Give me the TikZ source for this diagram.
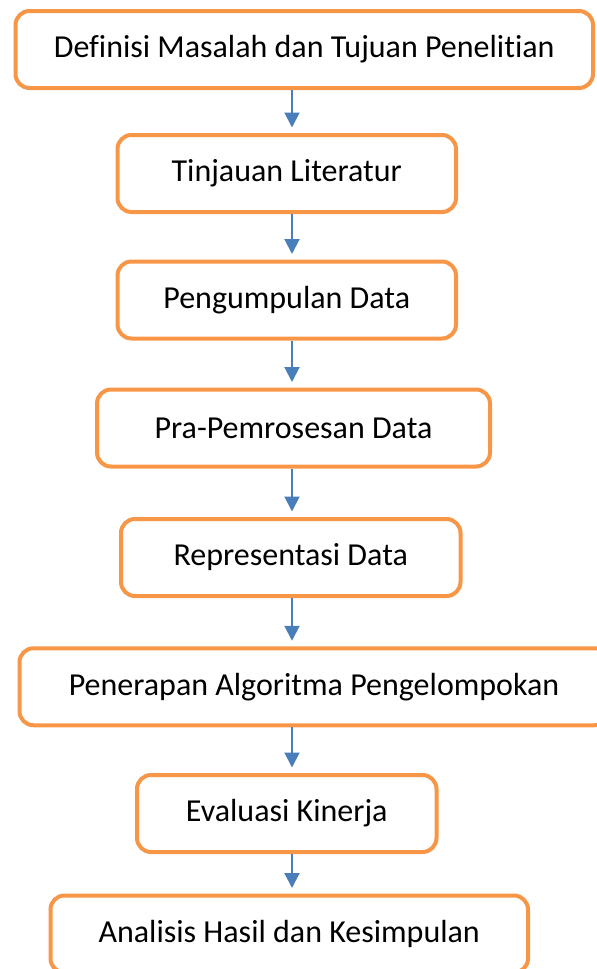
\documentclass[tikz,border=0pt]{standalone}
\usepackage{fontspec}
\setmainfont{Carlito}[Ligatures=NoCommon]
\usetikzlibrary{arrows.meta}
\definecolor{boxorange}{HTML}{F79646}
\definecolor{arrowblue}{HTML}{4A7EBB}
\tikzset{
  stepbox/.style={draw=boxorange, line width=2pt, rounded corners=7pt,
    minimum height=38.5pt, inner sep=0pt, font=\fontsize{16}{19}\selectfont},
  flow/.style={draw=arrowblue, line width=1pt,
    -{Triangle[width=7.5pt,length=7.5pt]}, shorten >=2.75pt}
}
\begin{document}
\begin{tikzpicture}[x=0.5pt,y=-0.5pt]
\useasboundingbox (0,0) rectangle (597,969);
\coordinate (spine) at (292,0);
\node[stepbox, minimum width=288.75pt] (masalah) at (304.25,49.5) {Definisi Masalah dan Tujuan Penelitian};
\node[stepbox, minimum width=169.25pt] (literatur) at (286.75,173.5) {Tinjauan Literatur};
\node[stepbox, minimum width=169.25pt] (kumpul) at (286.75,300) {Pengumpulan Data};
\node[stepbox, minimum width=196.5pt] (praproses) at (293.5,428) {Pra-Pemrosesan Data};
\node[stepbox, minimum width=169.75pt] (representasi) at (290.75,557.5) {Representasi Data};
\node[stepbox, minimum width=294.5pt] (algoritma) at (314,686.75) {Penerapan Algoritma Pengelompokan};
\node[stepbox, minimum width=149.75pt] (evaluasi) at (286.75,813.5) {Evaluasi Kinerja};
\node[stepbox, minimum width=238.75pt] (analisis) at (289.25,934) {Analisis Hasil dan Kesimpulan};
\draw[flow] (masalah.south -| spine) -- (literatur.north -| spine);
\draw[flow] (literatur.south -| spine) -- (kumpul.north -| spine);
\draw[flow] (kumpul.south -| spine) -- (praproses.north -| spine);
\draw[flow] (praproses.south -| spine) -- (representasi.north -| spine);
\draw[flow] (representasi.south -| spine) -- (algoritma.north -| spine);
\draw[flow] (algoritma.south -| spine) -- (evaluasi.north -| spine);
\draw[flow] (evaluasi.south -| spine) -- (analisis.north -| spine);
\end{tikzpicture}
\end{document}
